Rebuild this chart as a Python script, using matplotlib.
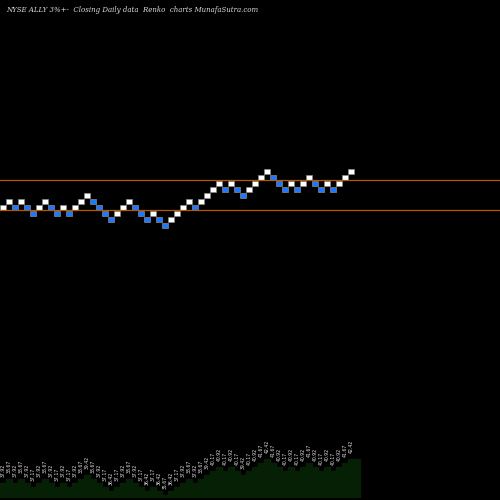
import matplotlib
matplotlib.use("Agg")
import matplotlib.pyplot as plt
from matplotlib.patches import Rectangle

closes = [37.92,38.67,37.92,38.67,37.92,37.17,37.92,38.67,37.92,37.17,37.92,37.17,37.92,38.67,39.42,38.67,37.92,37.17,36.42,37.17,
          37.92,38.67,37.92,37.17,36.42,37.17,36.42,35.67,36.42,37.17,37.92,38.67,37.92,38.67,39.42,40.17,40.92,40.17,40.92,40.17,
          39.42,40.17,40.92,41.67,42.42,41.67,40.92,40.17,40.92,40.17,40.92,41.67,40.92,40.17,40.92,40.17,40.92,41.67,42.42]
brick = 0.75
ref = 37.92
hlines = [40.97, 37.22]
title = "NYSE ALLY 3%+-  Closing Daily data  Renko  charts MunafaSutra.com"

W = 500
fig = plt.figure(figsize=(5, 5), dpi=100, facecolor="black")
ax = fig.add_axes([0, 0, 1, 1])
ax.set_facecolor("black")
ppu = 8.0  # pixels per price unit
ax.set_xlim(0, W / 6)
ax.set_ylim(ref - 295.3 / ppu, ref + 204.7 / ppu)
ax.axis("off")
for y in hlines:
    ax.axhline(y, color="#b35900", lw=0.9)
for i, c in enumerate(closes):
    up = i == 0 or c > closes[i - 1]
    col = "white" if up else "#1e78ff"
    ax.add_patch(Rectangle((i + 0.03, c - brick + 0.03), 0.94, brick - 0.06,
                           facecolor=col, edgecolor="#888888", lw=0.5))

# bottom panel
bx = fig.add_axes([0, 3 / 500, 1, 67 / 500])
bx.set_facecolor("none")
bx.axis("off")
bx.set_xlim(0, W / 6)
pp = 4.0 / brick
base = ref - 14 / pp
bx.set_ylim(base, ref + 53 / pp)
xs = []
ys = []
for i, c in enumerate(closes):
    xs += [i, i + 1]
    ys += [c, c]
xs.append(len(closes) + 1)
ys.append(closes[-1])
bx.fill_between(xs, base, ys, color="#062006")
for i, c in enumerate(closes):
    bx.text(i + 0.5, c + 6 / pp, f"{c:.2f}", rotation=90, fontsize=3.3,
            color="#e0e0e0", ha="center", va="bottom")

fig.text(0.012, 0.988, title, fontsize=5, color="#dddddd", family="DejaVu Serif",
         style="italic", va="top", ha="left")
fig.savefig("out.png", dpi=100, facecolor="black")
